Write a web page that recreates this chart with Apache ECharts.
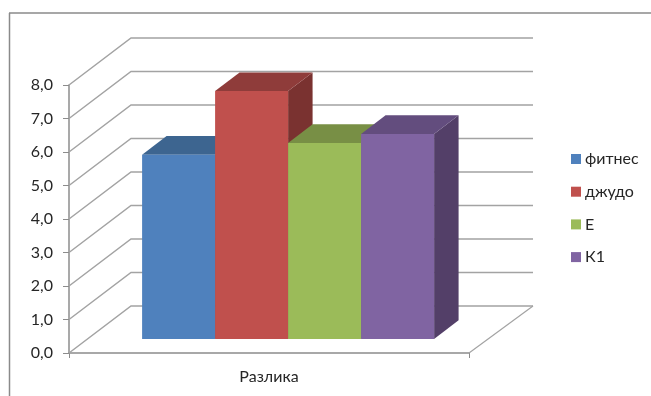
<!DOCTYPE html>
<html>
<head>
<meta charset="utf-8">
<style>html,body{margin:0;padding:0;background:#fff}#chart{width:651px;height:396px}</style>
<script src="https://cdn.jsdelivr.net/npm/echarts@6/dist/echarts.min.js"></script>
</head>
<body>
<div id="chart"></div>
<script>
// Values of the pseudo-3D column chart
const categories = ['Разлика'];
const seriesNames = ['фитнес', 'джудо', 'Е', 'К1'];
const fitnes = [5.5];
const judo = [7.4];
const e = [5.85];
const k1 = [6.12];
const valueTicks = [0, 1, 2, 3, 4, 5, 6, 7, 8];

// Front, top and side shades of each column
const shades = [
  { front: '#4F81BD', top: '#3D6590', side: '#375A82' },
  { front: '#C0504D', top: '#8F3C3A', side: '#7A3230' },
  { front: '#9BBB59', top: '#788F45', side: '#67793B' },
  { front: '#8064A2', top: '#634D7E', side: '#533F68' }
];

// Oblique projection: how far the back wall is shifted from the front plane
const DEPTH_X = 62;
const DEPTH_Y = -47;
const WALL_STRETCH = 2;  // the back wall is slightly wider than the front plane
const BAR_NEAR = 0.3;    // column front, as a share of the floor depth
const BAR_FAR = 0.695;   // column back
const BAR_SHARE = 0.1825; // column width, as a share of the category band
const BAR_SHIFT = 0.5;
const GRID_COLOR = '#a3a3a3';
const AXIS_COLOR = '#8c8c8c';
const FONT = 'Lato, "Open Sans", sans-serif';

function renderWall(params, api) {
  const p = api.coord([0, api.value(1)]);
  const band = api.size([1, 0])[0];
  const left = p[0] - band / 2;
  const right = p[0] + band / 2;
  const y = p[1];
  const children = [{
    type: 'polyline',
    shape: { points: [[left, y], [left + DEPTH_X, y + DEPTH_Y], [right + DEPTH_X + WALL_STRETCH, y + DEPTH_Y]] },
    style: { stroke: GRID_COLOR, lineWidth: 1.5, fill: null }
  }];
  if (api.value(1) === 0) {
    children.push({
      type: 'line',
      shape: { x1: right, y1: y, x2: right + DEPTH_X + WALL_STRETCH, y2: y + DEPTH_Y },
      style: { stroke: GRID_COLOR, lineWidth: 1.2 }
    });
  }
  return { type: 'group', children };
}

function renderColumn(index) {
  return function (params, api) {
    const base = api.coord([0, 0]);
    const top = api.coord([0, api.value(1)]);
    const w = api.size([1, 0])[0] * BAR_SHARE;
    const x0 = base[0] - 2 * w + index * w + DEPTH_X * BAR_NEAR + BAR_SHIFT;
    const x1 = x0 + w;
    const yb = base[1] + DEPTH_Y * BAR_NEAR;
    const yt = top[1] + DEPTH_Y * BAR_NEAR;
    const dx = DEPTH_X * (BAR_FAR - BAR_NEAR);
    const dy = DEPTH_Y * (BAR_FAR - BAR_NEAR);
    const c = shades[index];
    return {
      type: 'group',
      children: [
        { type: 'polygon', shape: { points: [[x1, yt], [x1 + dx, yt + dy], [x1 + dx, yb + dy], [x1, yb]] }, style: { fill: c.side } },
        { type: 'polygon', shape: { points: [[x0, yt], [x0 + dx, yt + dy], [x1 + dx, yt + dy], [x1, yt]] }, style: { fill: c.top } },
        { type: 'rect', shape: { x: x0, y: yt, width: w, height: yb - yt }, style: { fill: c.front } }
      ]
    };
  };
}

const columnValues = [fitnes, judo, e, k1];

const chart = echarts.init(document.getElementById('chart'));
chart.setOption({
  animation: false,
  grid: { left: 69, top: 85, width: 400, height: 268 },
  graphic: [
    { type: 'line', shape: { x1: 9.5, y1: 13, x2: 9.5, y2: 396 }, style: { stroke: '#8a8a8a', lineWidth: 1.5 } },
    { type: 'line', shape: { x1: 9, y1: 13, x2: 651, y2: 13 }, style: { stroke: '#8a8a8a', lineWidth: 1.5 } }
  ],
  legend: {
    orient: 'vertical',
    left: 571,
    top: 150,
    padding: 0,
    itemWidth: 10,
    itemHeight: 10,
    itemGap: 14.7,
    icon: 'rect',
    data: seriesNames,
    textStyle: { fontFamily: FONT, fontSize: 16, color: '#262626', padding: [0, 0, 0, -1], height: 18, lineHeight: 18 }
  },
  xAxis: {
    type: 'category',
    data: categories,
    axisLine: { lineStyle: { color: AXIS_COLOR, width: 1.5 } },
    axisTick: { show: true, length: 5, lineStyle: { color: AXIS_COLOR, width: 1 } },
    axisLabel: { fontFamily: FONT, fontSize: 16, color: '#262626', margin: 16 },
    splitLine: { show: false }
  },
  yAxis: {
    type: 'value',
    min: 0,
    max: 8,
    interval: 1,
    axisLine: { show: true, lineStyle: { color: AXIS_COLOR, width: 1.5 } },
    axisTick: { show: true, length: 6, lineStyle: { color: AXIS_COLOR, width: 1 } },
    axisLabel: {
      fontFamily: FONT, fontSize: 16, color: '#262626', margin: 16,
      formatter: v => v.toFixed(1).replace('.', ',')
    },
    splitLine: { show: false }
  },
  series: [
    {
      type: 'custom',
      name: 'walls',
      clip: false,
      silent: true,
      renderItem: renderWall,
      encode: { x: 0, y: 1 },
      data: valueTicks.map(v => [0, v])
    }
  ].concat(seriesNames.map((name, i) => ({
    type: 'custom',
    name,
    clip: false,
    silent: true,
    renderItem: renderColumn(i),
    encode: { x: 0, y: 1 },
    itemStyle: { color: shades[i].front },
    data: columnValues[i].map(v => [0, v])
  })))
});
</script>
</body>
</html>
